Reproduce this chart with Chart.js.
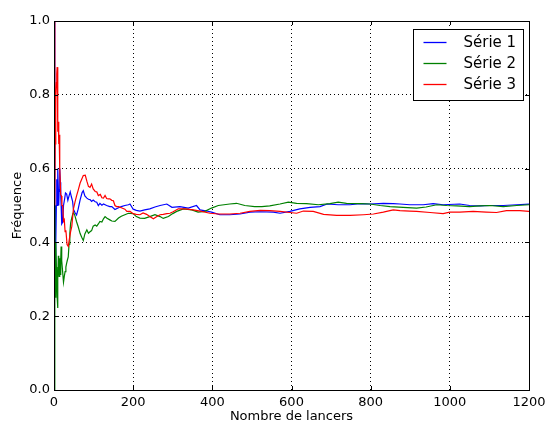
<!DOCTYPE html>
<html>
<head>
<meta charset="utf-8">
<script src="https://cdn.jsdelivr.net/npm/chart.js@4"></script>
<style>
  html, body { margin: 0; padding: 0; background: #fff; }
</style>
</head>
<body>
<canvas id="chart" width="546" height="421"></canvas>
<script>
const serie1X = [1,2,3,4,5,6,7,8,9,10,11,12,13,14,15,16,17,18,19,20,22,24,27,29,32,35,38,41,44,47,49,53,57,61,66,71,74,78,83,87,91,95,99,104,108,112,116,121,125,133,141,146,154,163,170,179,188,192,200,208,217,229,242,255,268,285,298,318,339,360,369,386,398,419,444,470,495,521,554,571,596,621,647,672,690,718,748,773,798,832,857,874,899,933,958,983,1025,1050,1076,1101,1135,1169,1200];
const serie1Y = [1.0,0.5,0.333,0.5,0.4,0.5,0.571,0.5,0.556,0.6,0.545,0.5,0.538,0.571,0.6,0.563,0.529,0.5,0.474,0.45,0.455,0.5,0.519,0.534,0.531,0.514,0.526,0.537,0.523,0.511,0.49,0.481,0.474,0.49,0.515,0.535,0.54,0.526,0.52,0.517,0.516,0.511,0.515,0.51,0.509,0.5,0.506,0.501,0.504,0.5,0.497,0.497,0.489,0.494,0.497,0.5,0.502,0.504,0.49,0.487,0.485,0.488,0.491,0.496,0.5,0.504,0.495,0.497,0.493,0.5,0.488,0.485,0.482,0.475,0.475,0.477,0.482,0.483,0.482,0.479,0.484,0.491,0.495,0.497,0.504,0.502,0.502,0.505,0.504,0.506,0.505,0.504,0.502,0.502,0.505,0.502,0.504,0.5,0.499,0.5,0.5,0.502,0.504];

const serie2X = [1,2,3,4,5,6,7,8,9,10,11,12,13,14,15,16,17,18,19,20,22,24,26,28,30,32,34,36,38,40,42,45,48,50,53,57,61,66,70,74,78,83,87,91,95,99,104,108,112,116,121,125,129,133,141,146,154,163,170,179,188,200,208,217,229,242,255,268,276,289,300,310,327,348,364,381,398,415,444,461,482,507,525,545,571,592,613,638,668,697,718,739,773,798,824,849,882,916,940,967,992,1017,1050,1076,1101,1135,1169,1200];
const serie2Y = [0.0,0.5,0.333,0.25,0.4,0.333,0.286,0.25,0.222,0.3,0.364,0.333,0.308,0.357,0.333,0.313,0.353,0.389,0.368,0.35,0.318,0.292,0.308,0.321,0.333,0.344,0.353,0.361,0.395,0.425,0.452,0.467,0.479,0.48,0.472,0.456,0.443,0.424,0.414,0.405,0.423,0.434,0.425,0.429,0.432,0.444,0.447,0.444,0.45,0.457,0.455,0.464,0.47,0.466,0.461,0.458,0.457,0.466,0.471,0.475,0.479,0.478,0.47,0.466,0.465,0.47,0.475,0.47,0.465,0.47,0.478,0.484,0.491,0.488,0.482,0.484,0.493,0.5,0.504,0.506,0.5,0.497,0.497,0.499,0.504,0.509,0.506,0.505,0.502,0.505,0.509,0.506,0.505,0.504,0.5,0.497,0.495,0.493,0.496,0.502,0.5,0.499,0.497,0.499,0.5,0.497,0.5,0.502];

const serie3X = [1,2,3,4,5,6,7,8,9,10,11,12,13,14,15,17,19,20,22,24,26,28,30,33,36,39,42,45,49,53,57,61,66,70,74,79,83,87,91,95,99,104,108,112,117,121,125,129,133,137,141,146,150,154,158,163,170,179,184,192,200,208,217,225,234,242,251,260,268,276,285,293,301,314,331,352,373,394,415,444,470,495,521,545,571,596,613,630,655,681,714,748,782,807,832,857,874,899,916,950,983,1000,1025,1059,1092,1118,1143,1177,1200];
const serie3Y = [1.0,0.5,0.667,0.75,0.8,0.833,0.857,0.875,0.778,0.7,0.727,0.667,0.692,0.643,0.6,0.529,0.526,0.5,0.5,0.458,0.462,0.429,0.433,0.394,0.389,0.41,0.429,0.444,0.49,0.509,0.526,0.541,0.561,0.571,0.581,0.582,0.566,0.552,0.549,0.558,0.545,0.538,0.537,0.527,0.53,0.521,0.52,0.527,0.519,0.518,0.518,0.514,0.513,0.5,0.497,0.497,0.494,0.49,0.484,0.484,0.478,0.476,0.475,0.48,0.476,0.47,0.464,0.47,0.475,0.476,0.478,0.479,0.483,0.491,0.491,0.488,0.484,0.479,0.477,0.477,0.479,0.484,0.487,0.486,0.484,0.481,0.479,0.485,0.484,0.476,0.473,0.473,0.475,0.477,0.482,0.488,0.486,0.485,0.484,0.481,0.478,0.482,0.482,0.484,0.482,0.481,0.486,0.486,0.484];

const labels = ['Série 1', 'Série 2', 'Série 3'];
const colors = ['#0000ff', '#008000', '#ff0000'];
const xTicks = [0, 200, 400, 600, 800, 1000, 1200];
const yTicks = [0.0, 0.2, 0.4, 0.6, 0.8, 1.0];

const points = (xs, ys) => xs.map((x, i) => ({ x: x, y: ys[i] }));
const FONT = 'DejaVu Sans';

// cadre, graduations vers l'intérieur et légende façon matplotlib
const frame = {
  id: 'frame',
  afterDraw(chart) {
    const ctx = chart.ctx;
    const a = chart.chartArea;
    const xs = chart.scales.x, ys = chart.scales.y;
    ctx.save();
    ctx.strokeStyle = '#000';
    ctx.lineWidth = 1;
    ctx.strokeRect(Math.round(a.left) + 0.5, Math.round(a.top) + 0.5,
      Math.round(a.right - a.left), Math.round(a.bottom - a.top));
    ctx.beginPath();
    xTicks.forEach(v => {
      const px = Math.round(xs.getPixelForValue(v)) + 0.5;
      ctx.moveTo(px, a.bottom); ctx.lineTo(px, a.bottom - 4);
      ctx.moveTo(px, a.top); ctx.lineTo(px, a.top + 4);
    });
    yTicks.forEach(v => {
      const py = Math.round(ys.getPixelForValue(v)) + 0.5;
      ctx.moveTo(a.left, py); ctx.lineTo(a.left + 4, py);
      ctx.moveTo(a.right, py); ctx.lineTo(a.right - 4, py);
    });
    ctx.stroke();

    // légende
    const bx = Math.round(a.right - 116) + 0.5, by = Math.round(a.top + 8) + 0.5;
    const bw = 110, bh = 71;
    ctx.fillStyle = '#fff';
    ctx.fillRect(bx, by, bw, bh);
    ctx.strokeRect(bx, by, bw, bh);
    ctx.font = '15px "' + FONT + '"';
    ctx.textBaseline = 'middle';
    labels.forEach((lab, i) => {
      const cy = Math.round(by + 12 + i * 21) + 0.5;
      ctx.strokeStyle = colors[i];
      ctx.lineWidth = 1.3;
      ctx.beginPath();
      ctx.moveTo(bx + 10, cy);
      ctx.lineTo(bx + 33, cy);
      ctx.stroke();
      ctx.fillStyle = '#000';
      ctx.fillText(lab, bx + 50, cy + 1);
    });
    ctx.restore();
  }
};

new Chart(document.getElementById('chart'), {
  type: 'line',
  data: {
    datasets: [
      { label: labels[0], data: points(serie1X, serie1Y), borderColor: colors[0], order: 3 },
      { label: labels[1], data: points(serie2X, serie2Y), borderColor: colors[1], order: 2 },
      { label: labels[2], data: points(serie3X, serie3Y), borderColor: colors[2], order: 1 }
    ]
  },
  options: {
    responsive: false,
    animation: false,
    layout: { padding: { top: 21, right: 17, left: 0, bottom: 0 } },
    elements: {
      line: { borderWidth: 1.2, tension: 0, fill: false },
      point: { radius: 0 }
    },
    plugins: { legend: { display: false }, tooltip: { enabled: false } },
    scales: {
      x: {
        type: 'linear',
        min: 0, max: 1200,
        afterBuildTicks: s => { s.ticks = xTicks.map(v => ({ value: v })); },
        afterFit: s => { s.height = 31; s.paddingLeft = 0; s.paddingRight = 0; },
        ticks: { color: '#000', font: { family: FONT, size: 13 }, padding: 5, maxRotation: 0,
                 callback: v => String(v) },
        grid: { color: '#000', lineWidth: 1, drawTicks: false },
        border: { display: false, dash: [1, 3] },
        title: { display: true, text: 'Nombre de lancers', color: '#000',
                 font: { family: FONT, size: 13 }, padding: { top: 0, bottom: -3 } }
      },
      y: {
        type: 'linear',
        min: 0, max: 1,
        afterBuildTicks: s => { s.ticks = yTicks.map(v => ({ value: v })); },
        afterFit: s => { s.width = 54; s.paddingTop = 0; s.paddingBottom = 0; },
        ticks: { color: '#000', font: { family: FONT, size: 13 }, padding: 4,
                 callback: v => v.toFixed(1) },
        grid: { color: '#000', lineWidth: 1, drawTicks: false },
        border: { display: false, dash: [1, 3] },
        title: { display: true, text: 'Fréquence', color: '#000',
                 font: { family: FONT, size: 13 }, padding: { top: 10, bottom: 0 } }
      }
    }
  },
  plugins: [frame]
});
</script>
</body>
</html>
